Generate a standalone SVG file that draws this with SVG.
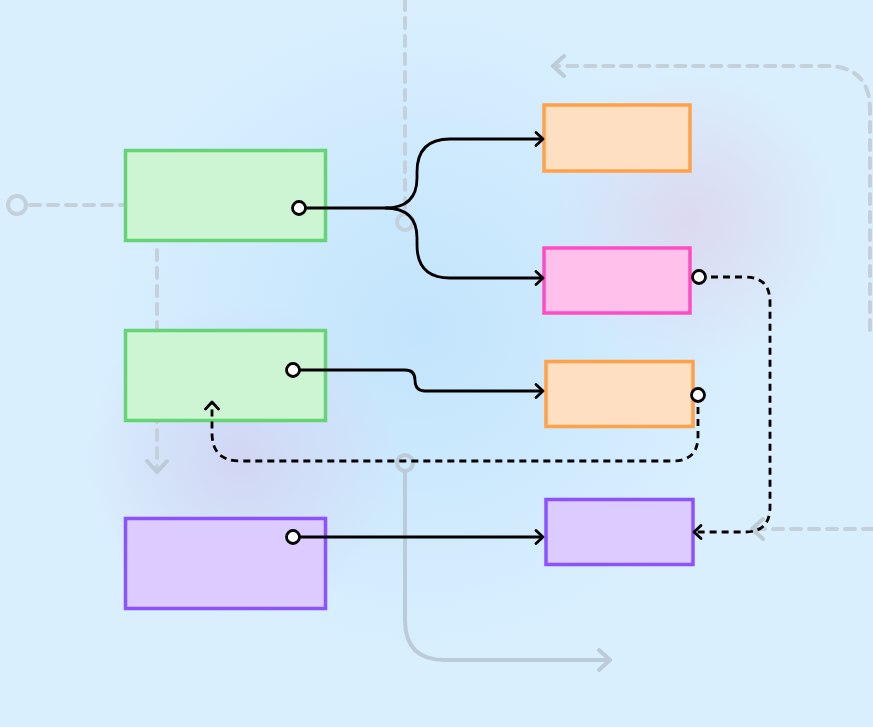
<svg xmlns="http://www.w3.org/2000/svg" width="873" height="727" viewBox="0 0 873 727">
<defs>
<radialGradient id="gBlue" cx="420" cy="330" r="330" gradientUnits="userSpaceOnUse">
<stop offset="0" stop-color="#c2e4fc"/><stop offset="1" stop-color="#c2e4fc" stop-opacity="0"/>
</radialGradient>
<radialGradient id="gPurp1" cx="690" cy="220" r="150" gradientUnits="userSpaceOnUse">
<stop offset="0" stop-color="#dcd9f0"/><stop offset="1" stop-color="#dcd9f0" stop-opacity="0"/>
</radialGradient>
<radialGradient id="gPurp2" cx="240" cy="460" r="160" gradientUnits="userSpaceOnUse">
<stop offset="0" stop-color="#d2d6f3"/><stop offset="1" stop-color="#d2d6f3" stop-opacity="0"/>
</radialGradient>
<marker id="arrB" markerUnits="userSpaceOnUse" markerWidth="16" markerHeight="18" refX="12" refY="8" orient="auto" viewBox="0 0 16 16">
<path d="M5,1.5 L12,8 L5,14.5" fill="none" stroke="#000" stroke-width="2.8" stroke-linecap="round" stroke-linejoin="round"/>
</marker>
<marker id="arrG" markerUnits="userSpaceOnUse" markerWidth="20" markerHeight="26" refX="15" refY="12" orient="auto" viewBox="0 0 20 24">
<path d="M4,2 L15,12 L4,22" fill="none" stroke="#bccbd8" stroke-width="4" stroke-linecap="round" stroke-linejoin="round"/>
</marker>
</defs>
<style>
.bgd{fill:none;stroke:#c4d0da;stroke-width:4;stroke-dasharray:10 8;stroke-linecap:round}
.bgs{fill:none;stroke:#bccbd8;stroke-width:4;stroke-linecap:round}
.con{fill:none;stroke:#000;stroke-width:2.8}
.dash{fill:none;stroke:#000;stroke-width:2.8;stroke-dasharray:7 5}
.port{fill:#fff;stroke:#000;stroke-width:2.8}
.green{fill:#cdf4d3;stroke:#64d474;stroke-width:3.5}
.orange{fill:#ffdfc2;stroke:#ffa148;stroke-width:3.5}
.pink{fill:#ffc0ec;stroke:#ff4cc4;stroke-width:3.5}
.purple{fill:#dccbff;stroke:#8c52ff;stroke-width:3.5}
</style>
<rect width="873" height="727" fill="#d9effe"/>
<rect width="873" height="727" fill="url(#gBlue)"/>
<rect width="873" height="727" fill="url(#gPurp1)"/>
<rect width="873" height="727" fill="url(#gPurp2)"/>

<g id="background-lines">
<path class="bgd" d="M405,0 V212"/>
<circle cx="405" cy="222" r="8" fill="none" stroke="#c4d0da" stroke-width="4"/>
<circle cx="17" cy="205" r="9" fill="none" stroke="#c4d0da" stroke-width="4"/>
<path class="bgd" d="M30,205 H123"/>
<path class="bgd" d="M157,250 V472" marker-end="url(#arrG)"/>
<path class="bgd" d="M870,330 V110 Q870,66 826,66 H553" marker-end="url(#arrG)"/>
<path class="bgd" d="M873,529 H752" marker-end="url(#arrG)"/>
<circle cx="405" cy="463" r="8" fill="none" stroke="#bccbd8" stroke-width="4"/>
<path class="bgs" d="M405,471 V620 Q405,660 445,660 H610" marker-end="url(#arrG)"/>
</g>

<g id="node-green-1"><rect class="green" x="125.5" y="150.5" width="200" height="90"/></g>
<g id="node-green-2"><rect class="green" x="125.5" y="330.5" width="200" height="90"/></g>
<g id="node-purple-1"><rect class="purple" x="125.5" y="518.5" width="200" height="90"/></g>
<g id="node-orange-1"><rect class="orange" x="544" y="105" width="146" height="66"/></g>
<g id="node-pink"><rect class="pink" x="544" y="248" width="146" height="65"/></g>
<g id="node-orange-2"><rect class="orange" x="546" y="361.5" width="147" height="65"/></g>
<g id="node-purple-2"><rect class="purple" x="546" y="499.5" width="147" height="65"/></g>

<g id="connectors">
<path class="con" d="M299,208 H385 Q417,208 417,178 V172 Q417,139 450,139 H543" marker-end="url(#arrB)"/>
<path class="con" d="M385,208 Q417,208 417,238 V245 Q417,278 450,278 H543" marker-end="url(#arrB)"/>
<path class="con" d="M293,370 H405 Q415,370 415,380 Q415,391 425,391 H543" marker-end="url(#arrB)"/>
<path class="con" d="M293,537 H543" marker-end="url(#arrB)"/>
<path class="dash" d="M699,277 H745 Q770,277 770,302 V507 Q770,532 745,532 H694" marker-end="url(#arrB)"/>
<path class="dash" d="M698,395 V436 Q698,461 673,461 H240 Q212,461 212,433 V402" marker-end="url(#arrB)"/>
<circle class="port" cx="299" cy="208" r="6.5"/>
<circle class="port" cx="293" cy="370" r="6.5"/>
<circle class="port" cx="293" cy="537" r="6.5"/>
<circle class="port" cx="699" cy="277" r="6.5"/>
<circle class="port" cx="698" cy="395" r="6.5"/>
</g>
</svg>
